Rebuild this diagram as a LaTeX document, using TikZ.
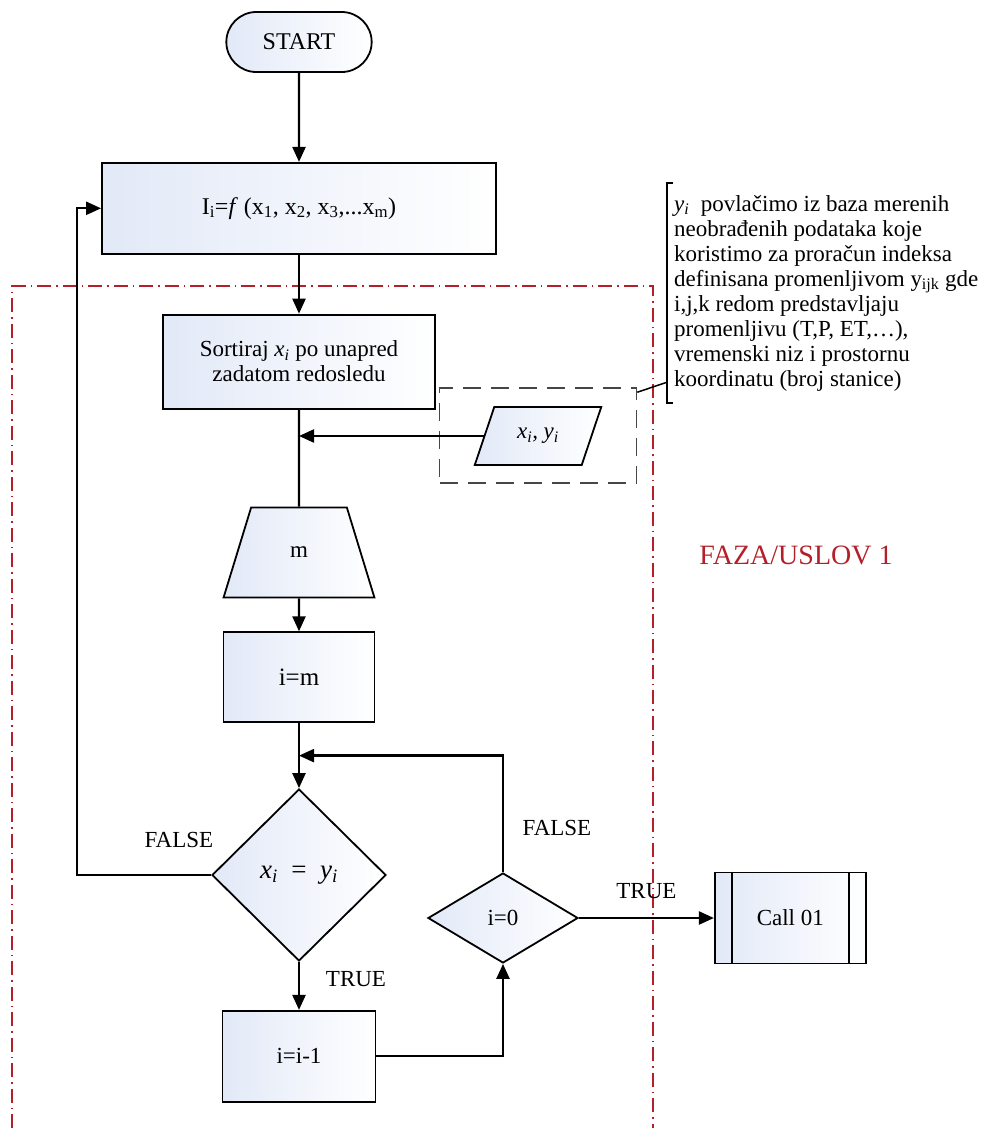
\documentclass[tikz,border=0pt]{standalone}
\usepackage{fontspec}
\setmainfont{Liberation Serif}
\usetikzlibrary{positioning,shapes.geometric,shapes.misc,arrows.meta,calc}

\definecolor{boxblue}{RGB}{226,233,247}
\definecolor{fazared}{RGB}{180,32,42}
\definecolor{grpgray}{RGB}{70,70,70}

\tikzset{
  base/.style={draw,line width=1.8pt,left color=boxblue,right color=white,
    font=\fontsize{23}{25}\selectfont,align=center},
  term/.style={base,rounded rectangle,minimum width=152pt,minimum height=60pt},
  proc/.style={base,rectangle,minimum height=91pt},
  trap/.style={base,trapezium,trapezium stretches=true,trapezium left angle=68,
    trapezium right angle=68,minimum width=151pt,minimum height=90pt},
  inout/.style={base,trapezium,trapezium stretches=true,trapezium left angle=64,
    trapezium right angle=116,minimum width=127pt,minimum height=58pt},
  dec/.style={base,diamond,inner sep=0pt},
  grp/.style={draw=grpgray,line width=1.5pt,dash pattern=on 18pt off 10pt},
  note/.style={align=left,inner xsep=6pt,inner ysep=11pt,font=\fontsize{23}{25}\selectfont},
  lbl/.style={font=\fontsize{23}{25}\selectfont},
  >={Triangle[length=15pt,width=13pt]}
}

\begin{document}
\begin{tikzpicture}[x=1pt,y=-1pt,line width=2.3pt]
\useasboundingbox (0,0) rectangle (987,1128);
% phase frame
\draw[fazared,line width=1.5pt,dash pattern=on 14pt off 5pt on 1.5pt off 5pt]
  (12,1128) -- (12,286) -- (653,286) -- (653,1128);
\node[text=fazared,font=\fontsize{28}{30}\selectfont] (faza) at (796,555) {FAZA/USLOV 1};

% main flow
\node[term,font=\fontsize{24}{26}\selectfont] (start) at (299,42) {START};
\node[proc,minimum width=394pt,below=89pt of start,font=\fontsize{24}{26}\selectfont] (fx)
  {I\textsubscript{i}=\textit{f} (x\textsubscript{1}, x\textsubscript{2}, x\textsubscript{3},...x\textsubscript{m})};
\node[proc,minimum width=272pt,minimum height=94pt,below=59pt of fx] (sort)
  {Sortiraj \textit{x\textsubscript{i}} po unapred\\zadatom redosledu};
\node[trap,below=97pt of sort] (m) {m};
\node[proc,minimum width=151pt,minimum height=90pt,below=33pt of m,
  font=\fontsize{25}{27}\selectfont] (init) {i=m};
\node[dec,minimum width=174pt,minimum height=172pt,below=65pt of init,
  font=\fontsize{27}{30}\selectfont] (eq)
  {\textit{x\textsubscript{i}}\enspace=\enspace\textit{y\textsubscript{i}}};
\node[proc,minimum width=153pt,minimum height=91pt,below=48pt of eq] (dec) {i=i-1};
\node[dec,minimum width=150pt,minimum height=90pt] (zero) at (503,918) {i=0};
\node[proc,minimum width=151pt,minimum height=91pt,right=135pt of zero] (call) {Call 01};
\draw[line width=1.8pt] ([xshift=18pt]call.north west) -- ([xshift=18pt]call.south west)
  ([xshift=-18pt]call.north east) -- ([xshift=-18pt]call.south east);

% input data
\node[inout] (xy) at (538,436) {\textit{x\textsubscript{i}, y\textsubscript{i}}};
\node[grp,minimum width=197pt,minimum height=95pt] (box) at (538,435.5) {};
\node[note,anchor=north west] (note) at (667,183)
  {\textit{y\textsubscript{i}}\ \ povlačimo iz baza merenih\\
   neobrađenih podataka koje\\
   koristimo za proračun indeksa\\
   definisana promenljivom y\textsubscript{ijk} gde\\
   i,j,k redom predstavljaju\\
   promenljivu (T,P, ET,…),\\
   vremenski niz i prostornu\\
   koordinatu (broj stanice)};
\draw[line width=1.5pt] ([xshift=6pt]note.north west) -- (note.north west)
  -- (note.south west) -- ([xshift=6pt]note.south west);
\draw[line width=1.5pt] ([yshift=-5pt]box.north east) -- ($(note.south west)+(0,-21)$);

\coordinate (join) at ($(init.south)!.5!(eq.north)$);

% connectors
\path[->] (start) edge (fx)
          (fx) edge (sort);
\draw (sort) -- (m);
\draw[->] (xy.west) -- (xy.west -| sort.south);
\path[->] (m) edge (init)
          (init) edge (eq)
          (eq) edge node[lbl,pos=0.36,xshift=57pt]{TRUE} (dec);
\draw[->] (eq.west) -- node[lbl,pos=0.24,yshift=35pt]{FALSE} ++(-134pt,0) |- (fx.west);
\draw[->] (dec.east) -| (zero.south);
\draw[->] (zero.north) |- node[lbl,pos=0.19,xshift=54pt]{FALSE} (join);
\draw[->] (zero.east) -- node[lbl,pos=0.5,yshift=27pt]{TRUE} (call.west);
\end{tikzpicture}
\end{document}
